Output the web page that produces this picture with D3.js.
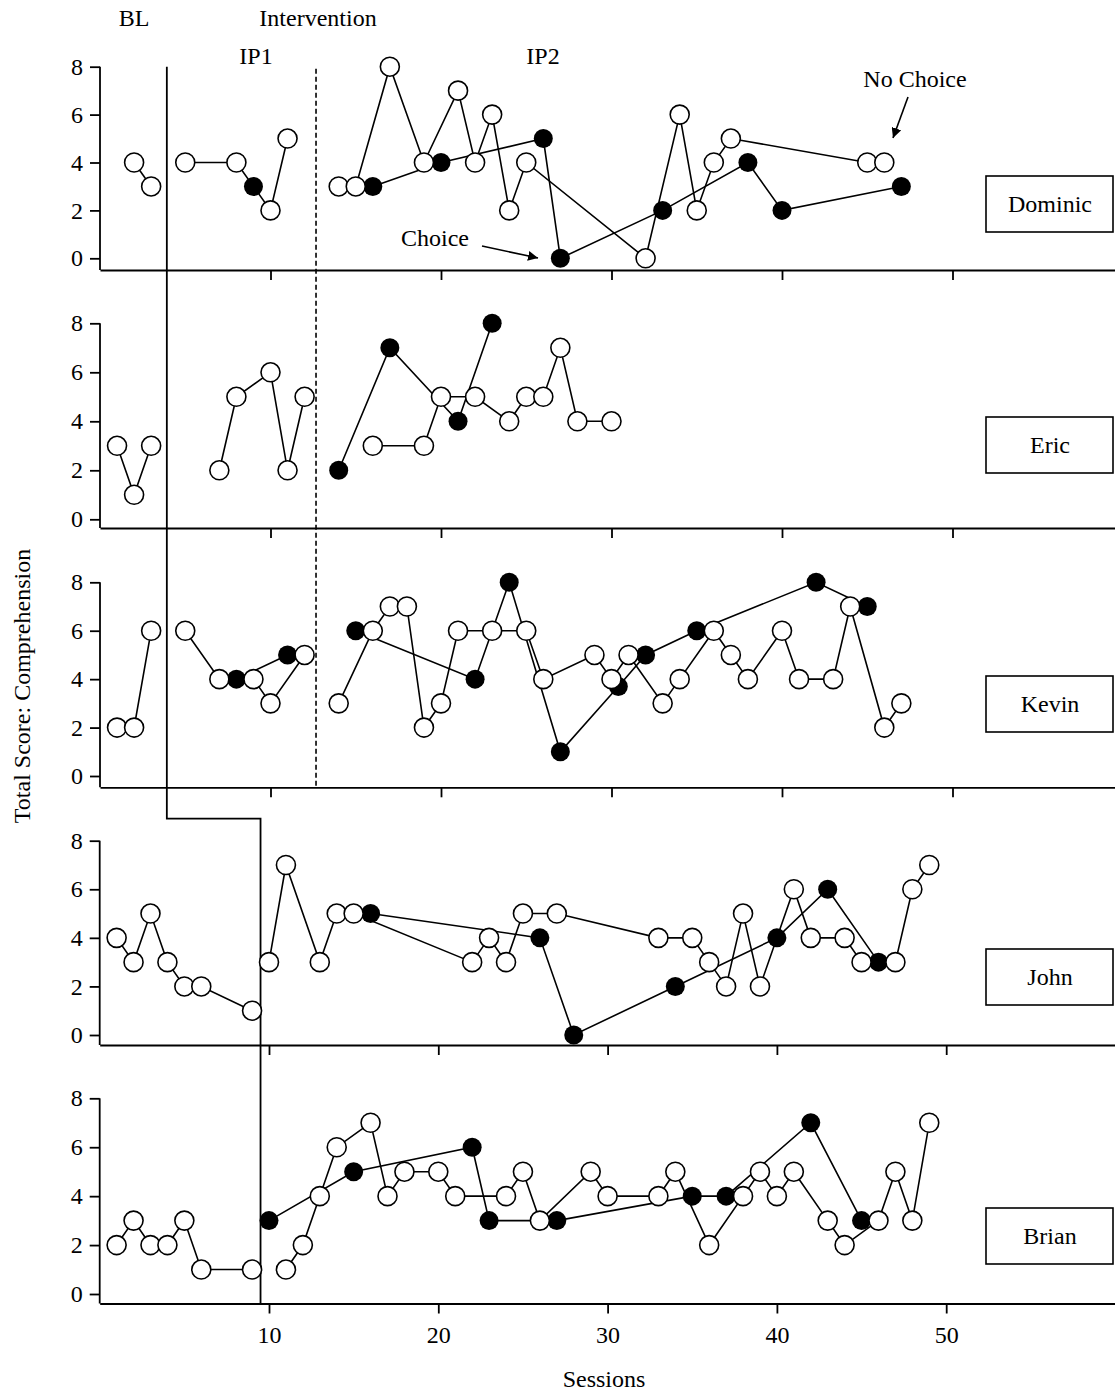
<!DOCTYPE html>
<html lang="en">

<head>
  <meta charset="UTF-8">
  <title>comprehension-multiple-baseline</title>
  <script src="https://cdn.jsdelivr.net/npm/d3@7"></script>
  <style type="text/css">
    body {
      margin: 0;
      background: #fff;
    }

    text {
      font-family: 'Liberation Serif', 'Times New Roman', serif;
      font-size: 24px;
      fill: #000;
    }

    .axis path,
    .axis line {
      stroke: #000;
      stroke-width: 1.8;
    }

    .series {
      fill: none;
      stroke: #000;
      stroke-width: 1.6;
    }
  </style>
</head>

<body>
  <script>
    var sessionTicks = [10, 20, 30, 40, 50];
    var scoreTicks = [0, 2, 4, 6, 8];
    var participants = ['Dominic', 'Eric', 'Kevin', 'John', 'Brian'];

    // phase changes, in sessions
    var baselineEnd = 3.92;      // Dominic, Eric, Kevin
    var ip1End = 12.67;          // Dominic, Eric, Kevin
    var baselineEndLate = 9.5;   // John, Brian

    // [session, score]  open = no choice, filled = choice
    var dominicBaseline = [[2, 4], [3, 3]];
    var dominicIP1Open = [[5, 4], [8, 4], [10, 2], [11, 5]];
    var dominicIP1Filled = [[9, 3]];
    var dominicIP2Open = [[14, 3], [15, 3], [17, 8], [19, 4], [21, 7], [22, 4], [23, 6], [24, 2], [25, 4], [32, 0],
      [34, 6], [35, 2], [36, 4], [37, 5], [45, 4], [46, 4]];
    var dominicIP2Filled = [[16, 3], [20, 4], [26, 5], [27, 0], [33, 2], [38, 4], [40, 2], [47, 3]];

    var ericBaseline = [[1, 3], [2, 1], [3, 3]];
    var ericIP1Open = [[7, 2], [8, 5], [10, 6], [11, 2], [12, 5]];
    var ericIP2Open = [[16, 3], [19, 3], [20, 5], [22, 5], [24, 4], [25, 5], [26, 5], [27, 7], [28, 4], [30, 4]];
    var ericIP2Filled = [[14, 2], [17, 7], [21, 4], [23, 8]];

    var kevinBaseline = [[1, 2], [2, 2], [3, 6]];
    var kevinIP1Open = [[5, 6], [7, 4], [9, 4], [10, 3], [12, 5]];
    var kevinIP1Filled = [[8, 4], [11, 5]];
    var kevinIP2Open = [[14, 3], [16, 6], [17, 7], [18, 7], [19, 2], [20, 3], [21, 6], [23, 6], [25, 6], [26, 4],
      [29, 5], [30, 4], [31, 5], [33, 3], [34, 4], [36, 6], [37, 5], [38, 4], [40, 6], [41, 4], [43, 4], [44, 7],
      [46, 2], [47, 3]];
    var kevinIP2Filled = [[15, 6], [22, 4], [24, 8], [27, 1], [30.4, 3.7], [32, 5], [35, 6], [42, 8], [45, 7]];

    var johnBaseline = [[1, 4], [2, 3], [3, 5], [4, 3], [5, 2], [6, 2], [9, 1]];
    var johnOpen = [[10, 3], [11, 7], [13, 3], [14, 5], [15, 5], [22, 3], [23, 4], [24, 3], [25, 5], [27, 5],
      [33, 4], [35, 4], [36, 3], [37, 2], [38, 5], [39, 2], [41, 6], [42, 4], [44, 4], [45, 3], [47, 3], [48, 6],
      [49, 7]];
    var johnFilled = [[16, 5], [26, 4], [28, 0], [34, 2], [40, 4], [43, 6], [46, 3]];

    var brianBaseline = [[1, 2], [2, 3], [3, 2], [4, 2], [5, 3], [6, 1], [9, 1]];
    var brianOpen = [[11, 1], [12, 2], [13, 4], [14, 6], [16, 7], [17, 4], [18, 5], [20, 5], [21, 4], [24, 4],
      [25, 5], [26, 3], [29, 5], [30, 4], [33, 4], [34, 5], [36, 2], [38, 4], [39, 5], [40, 4], [41, 5], [43, 3],
      [44, 2], [46, 3], [47, 5], [48, 3], [49, 7]];
    var brianFilled = [[10, 3], [15, 5], [22, 6], [23, 3], [27, 3], [35, 4], [37, 4], [42, 7], [45, 3]];

    var panels = [
      { open: [dominicBaseline, dominicIP1Open, dominicIP2Open], filled: [dominicIP1Filled, dominicIP2Filled] },
      { open: [ericBaseline, ericIP1Open, ericIP2Open], filled: [ericIP2Filled] },
      { open: [kevinBaseline, kevinIP1Open, kevinIP2Open], filled: [kevinIP1Filled, kevinIP2Filled] },
      { open: [johnBaseline, johnOpen], filled: [johnFilled] },
      { open: [brianBaseline, brianOpen], filled: [brianFilled] }
    ];

    // page layout
    var w = 1115;
    var h = 1393;
    var zeroY = [258.3, 519.3, 776, 1035, 1294];
    var topY = [66.7, 323.3, 582.3, 840.7, 1098.3];
    var axisY = [270, 528, 787.3, 1045, 1303.5];
    var boxTop = [176, 417, 676, 949, 1208];

    var svg = d3.select('body')
      .append('svg')
      .attr('width', w)
      .attr('height', h);

    var xUpper = d3.scaleLinear().domain([0, 60]).range([100, 1123]);
    var xLower = d3.scaleLinear().domain([0, 60]).range([99.7, 1115.5]);

    // phase change lines
    svg.append('path')
      .attr('d', 'M' + xUpper(baselineEnd) + ',' + topY[0] + 'V' + (topY[3] - 22) +
        'H' + xLower(baselineEndLate) + 'V' + axisY[4])
      .attr('fill', 'none')
      .attr('stroke', '#000')
      .attr('stroke-width', 1.8);

    svg.append('line')
      .attr('x1', xUpper(ip1End)).attr('x2', xUpper(ip1End))
      .attr('y1', topY[0] + 2).attr('y2', axisY[2] + 1)
      .attr('stroke', '#000')
      .attr('stroke-width', 1.6)
      .attr('stroke-dasharray', '5,3');

    var r = 9.5;

    panels.forEach(function (p, i) {
      var x = i < 3 ? xUpper : xLower;
      var y = d3.scaleLinear().domain([0, 8]).range([zeroY[i], topY[i]]);
      var g = svg.append('g');

      var xAxis = d3.axisBottom(x)
        .tickValues(sessionTicks)
        .tickSize(10)
        .tickSizeOuter(0)
        .tickPadding(12)
        .tickFormat(i === 4 ? d3.format('d') : function () { return ''; });
      g.append('g')
        .attr('class', 'axis')
        .attr('transform', 'translate(0,' + axisY[i] + ')')
        .call(xAxis);

      var yAxis = d3.axisLeft(y)
        .tickValues(scoreTicks)
        .tickSize(10)
        .tickSizeOuter(0)
        .tickPadding(7);
      var ya = g.append('g')
        .attr('class', 'axis')
        .attr('transform', 'translate(' + x(0) + ',0)')
        .call(yAxis);
      ya.select('.domain').remove();
      ya.append('line')
        .attr('x1', 0).attr('x2', 0)
        .attr('y1', topY[i]).attr('y2', axisY[i]);

      g.selectAll('.axis').attr('font-family', null).attr('font-size', null);

      var line = d3.line()
        .x(function (d) { return x(d[0]); })
        .y(function (d) { return y(d[1]); });

      p.open.concat(p.filled).forEach(function (s) {
        g.append('path').attr('class', 'series').attr('d', line(s));
      });

      p.filled.forEach(function (s) {
        g.selectAll(null).data(s).enter().append('circle')
          .attr('cx', function (d) { return x(d[0]); })
          .attr('cy', function (d) { return y(d[1]); })
          .attr('r', r)
          .attr('fill', '#000');
      });

      p.open.forEach(function (s) {
        g.selectAll(null).data(s).enter().append('circle')
          .attr('cx', function (d) { return x(d[0]); })
          .attr('cy', function (d) { return y(d[1]); })
          .attr('r', r)
          .attr('fill', '#fff')
          .attr('stroke', '#000')
          .attr('stroke-width', 1.6);
      });

      // name box
      g.append('rect')
        .attr('x', 986).attr('y', boxTop[i])
        .attr('width', 127).attr('height', 56)
        .attr('fill', '#fff')
        .attr('stroke', '#000')
        .attr('stroke-width', 1.6);
      g.append('text')
        .attr('x', 1050).attr('y', boxTop[i] + 36)
        .attr('text-anchor', 'middle')
        .text(participants[i]);
    });

    // phase labels
    svg.append('text').attr('x', 134).attr('y', 26).attr('text-anchor', 'middle').text('BL');
    svg.append('text').attr('x', 318).attr('y', 26).attr('text-anchor', 'middle').text('Intervention');
    svg.append('text').attr('x', 256).attr('y', 64).attr('text-anchor', 'middle').text('IP1');
    svg.append('text').attr('x', 543).attr('y', 64).attr('text-anchor', 'middle').text('IP2');

    // arrows
    svg.append('defs').append('marker')
      .attr('id', 'head')
      .attr('viewBox', '0 0 10 10')
      .attr('refX', 10).attr('refY', 5)
      .attr('markerWidth', 10).attr('markerHeight', 10)
      .attr('markerUnits', 'userSpaceOnUse')
      .attr('orient', 'auto')
      .append('path')
      .attr('d', 'M0,0L10,5L0,10z')
      .attr('fill', '#000');

    svg.append('text').attr('x', 435).attr('y', 246).attr('text-anchor', 'middle').text('Choice');
    svg.append('line')
      .attr('x1', 482).attr('y1', 246).attr('x2', 538).attr('y2', 258)
      .attr('stroke', '#000').attr('stroke-width', 1.6)
      .attr('marker-end', 'url(#head)');

    svg.append('text').attr('x', 915).attr('y', 87).attr('text-anchor', 'middle').text('No Choice');
    svg.append('line')
      .attr('x1', 908).attr('y1', 97).attr('x2', 893).attr('y2', 138)
      .attr('stroke', '#000').attr('stroke-width', 1.6)
      .attr('marker-end', 'url(#head)');

    // axis titles
    svg.append('text')
      .attr('transform', 'translate(30,686) rotate(-90)')
      .attr('text-anchor', 'middle')
      .text('Total Score: Comprehension');
    svg.append('text')
      .attr('x', 604).attr('y', 1387)
      .attr('text-anchor', 'middle')
      .text('Sessions');
  </script>
</body>

</html>
